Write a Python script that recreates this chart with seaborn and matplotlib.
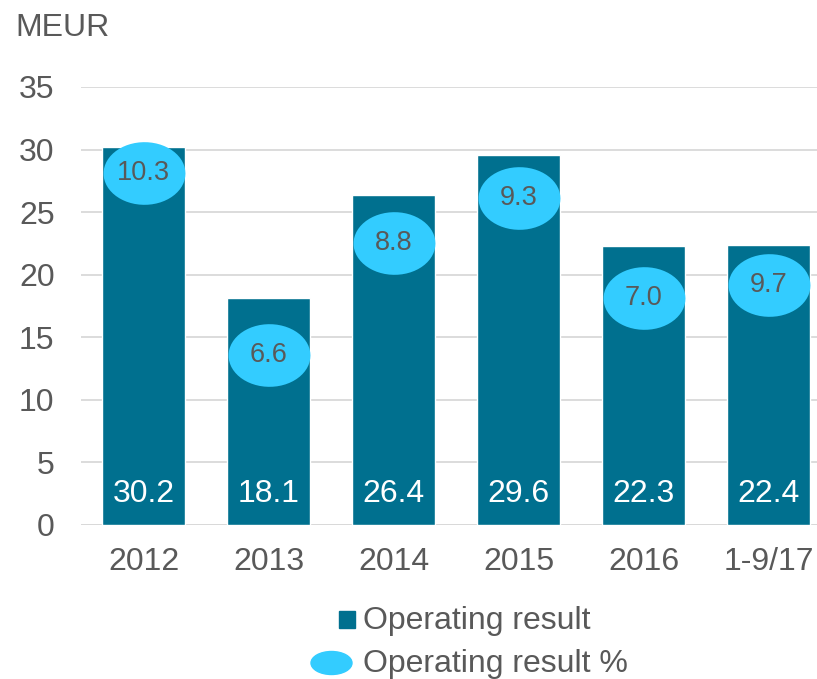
import numpy as np
import pandas as pd
import seaborn as sns
import matplotlib.pyplot as plt
from matplotlib.path import Path
from matplotlib.patches import Rectangle, Ellipse

# data
periods = ['2012', '2013', '2014', '2015', '2016', '1-9/17']
operating_result = [30.2, 18.1, 26.4, 29.6, 22.3, 22.4]
operating_pct = [10.3, 6.6, 8.8, 9.3, 7.0, 9.7]
# vertical placement of the % bubbles (MEUR scale, as drawn in the source)
pct_bubble_y = [28.1, 13.6, 22.5, 26.1, 18.1, 19.2]
y_ticks = [0, 5, 10, 15, 20, 25, 30, 35]

BAR = '#00708F'
BUBBLE = '#33CCFF'
GREY = '#595959'

df = pd.DataFrame({'period': periods, 'value': operating_result,
                   'pct': operating_pct, 'bubble_y': pct_bubble_y})

sns.set_theme(style='white')
plt.rcParams['font.family'] = ['Liberation Sans', 'DejaVu Sans']

fig = plt.figure(figsize=(8.17, 6.79), dpi=100)
ax = fig.add_axes([81 / 817, 154 / 679, 1 - 81 / 817, 438 / 679])

sns.barplot(data=df, x='period', y='value', color=BAR, saturation=1,
            width=0.664, ax=ax, zorder=2)

# ellipse marker
t = np.linspace(0, 2 * np.pi, 60)
ellipse_marker = Path(np.column_stack([np.cos(t), 0.765 * np.sin(t)]), closed=True)
sns.scatterplot(data=df, x='period', y='bubble_y', marker=ellipse_marker,
                s=59 ** 2, color=BUBBLE, linewidth=0, ax=ax, zorder=3,
                legend=False)

for i, row in df.iterrows():
    ax.text(i, 2.5, f'{row.value:.1f}', ha='center', va='center',
            color='white', fontsize=23, zorder=4)
    ax.text(i, row.bubble_y, f'{row.pct:.1f}', ha='center', va='center',
            color=GREY, fontsize=19.5, zorder=4)

ax.set_ylim(0, 35)
ax.set_xlim(-0.5, 5.5 - 14 / 125)
ax.set_yticks(y_ticks)
ax.set_xlabel('')
ax.set_ylabel('')
ax.grid(axis='y', color='#D9D9D9', linewidth=1.3, zorder=0)
ax.set_axisbelow(True)
for s in ax.spines.values():
    s.set_visible(False)
ax.axhline(0, color='#D9D9D9', linewidth=2, zorder=1)
ax.tick_params(axis='y', length=0, pad=19, labelsize=23, labelcolor=GREY)
ax.tick_params(axis='x', length=0, pad=16, labelsize=23, labelcolor=GREY)

fig.text(15 / 817, 1 - 28 / 679, 'MEUR', ha='left', va='center',
         fontsize=23, color=GREY)

# legend drawn by hand under the plot
fig.patches.append(Rectangle((339 / 817, 1 - 628 / 679), 16 / 817, 17 / 679,
                             transform=fig.transFigure, color=BAR))
fig.text(363 / 817, 1 - 621 / 679, 'Operating result', ha='left', va='center',
         fontsize=23, color=GREY)
fig.patches.append(Ellipse((331.5 / 817, 1 - 663 / 679), 41 / 817, 23 / 679,
                           transform=fig.transFigure, color=BUBBLE))
fig.text(363 / 817, 1 - 664 / 679, 'Operating result %', ha='left', va='center',
         fontsize=23, color=GREY)

fig.savefig('out.png', dpi=100)
